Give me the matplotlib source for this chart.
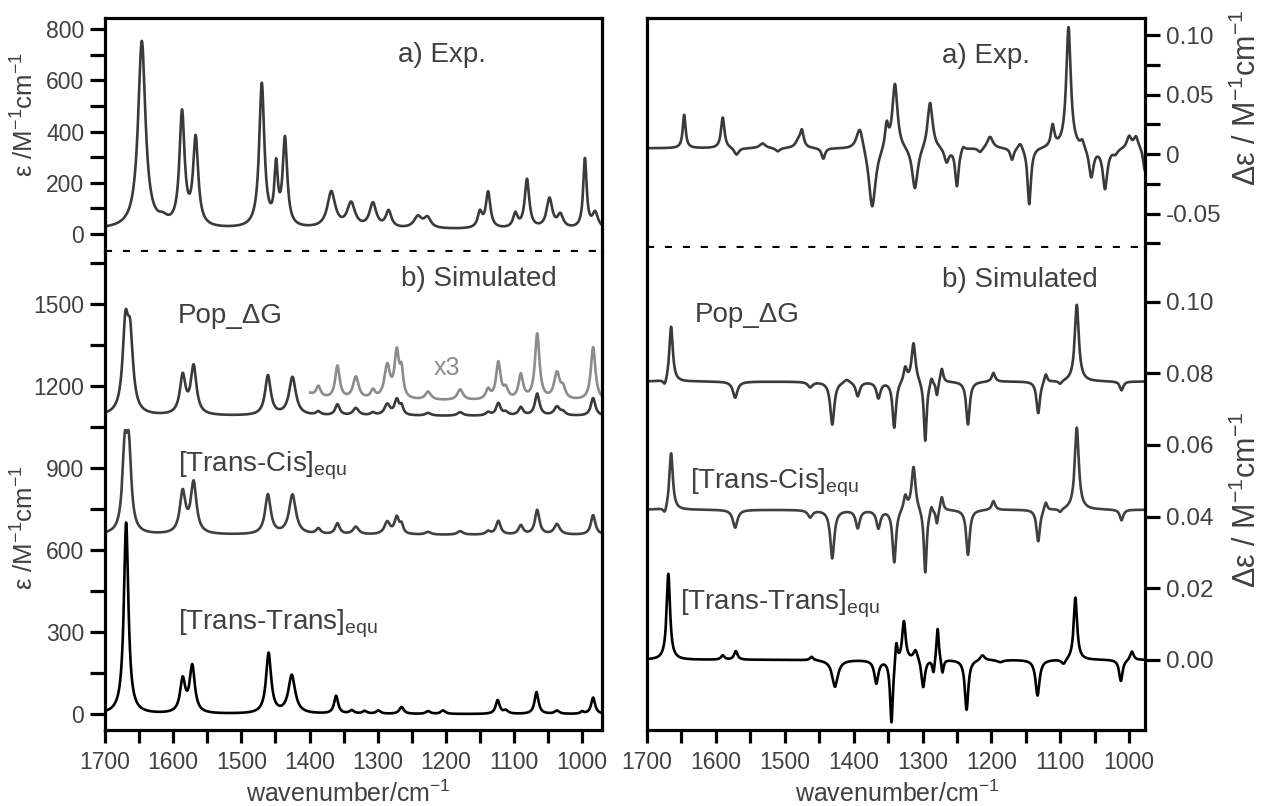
import numpy as np
import matplotlib
matplotlib.use("Agg")
import matplotlib.pyplot as plt
from matplotlib.ticker import MultipleLocator, FuncFormatter

plt.rcParams['font.family'] = ['Liberation Sans', 'DejaVu Sans']
plt.rcParams['mathtext.fontset'] = 'custom'
plt.rcParams['mathtext.rm'] = 'Liberation Sans'
plt.rcParams['mathtext.it'] = 'Liberation Sans:italic'
plt.rcParams['mathtext.bf'] = 'Liberation Sans:bold'

# ---------------- band tables (position cm-1, amplitude, FWHM cm-1) ----------------
# experimental IR absorption
exp_ir_pos = [1646, 1615, 1587, 1567, 1470, 1449, 1436, 1368, 1339, 1307, 1284, 1241, 1227,
              1150, 1138, 1098, 1081, 1048, 1032, 996, 981]
exp_ir_amp = [730, 22, 440, 340, 560, 220, 340, 140, 95, 95, 65, 45, 40,
              60, 140, 55, 190, 115, 50, 270, 60]
exp_ir_fwhm = [13, 16, 9, 9, 9, 6, 8, 14, 14, 12, 10, 14, 12,
               8, 8, 8, 8, 10, 10, 6, 10]
exp_ir_base = 18

# simulated IR, population weighted
pop_ir_pos = [1670, 1663, 1586, 1570, 1461, 1425, 1387, 1359, 1332, 1307, 1286, 1272, 1265,
              1226, 1179, 1138, 1123, 1112, 1090, 1066, 1037, 1028, 984]
pop_ir_amp = [300, 250, 140, 175, 145, 140, 13, 40, 27, 10, 40, 55, 30,
              10, 13, 12, 45, 12, 30, 80, 32, 12, 65]
pop_ir_fwhm = [10, 10, 10, 10, 10, 12, 8, 8, 10, 8, 10, 8, 6,
               10, 10, 8, 8, 8, 8, 8, 10, 8, 8]
pop_ir_base = 1090
pop_x3_base = 1145
pop_x3_start = 1399

# simulated IR, trans-cis conformer
tc_ir_pos = [1671, 1665, 1586, 1570, 1461, 1425, 1387, 1359, 1332, 1286, 1272, 1265,
             1226, 1179, 1138, 1123, 1090, 1066, 1037, 984]
tc_ir_amp = [280, 280, 150, 185, 145, 145, 20, 40, 28, 45, 60, 30,
             10, 13, 12, 50, 33, 90, 38, 72]
tc_ir_fwhm = [8.5, 8.5, 10, 10, 10, 12, 8, 8, 10, 10, 8, 6,
              10, 10, 8, 8, 8, 8, 10, 8]
tc_ir_base = 655

# simulated IR, trans-trans conformer
tt_ir_pos = [1669, 1586, 1572, 1460, 1426, 1361, 1338, 1319, 1299, 1265, 1226, 1204,
             1124, 1112, 1067, 1037, 1000, 984]
tt_ir_amp = [700, 120, 170, 220, 140, 65, 12, 10, 12, 25, 10, 13,
             50, 12, 80, 12, 8, 60]
tt_ir_fwhm = [8, 9, 9, 9, 12, 7, 8, 8, 8, 8, 8, 8,
              7, 8, 7, 8, 6, 7]
tt_ir_base = 0

# experimental VCD
exp_cd_pos = [1646, 1590, 1570, 1532, 1510, 1480, 1475, 1444, 1391, 1373, 1352, 1340, 1311,
              1289, 1265, 1250, 1241, 1216, 1202, 1170, 1158, 1145, 1111, 1088, 1068,
              1055, 1035, 1020, 1000, 990, 977]
exp_cd_amp = [0.028, 0.026, -0.006, 0.004, -0.003, 0.006, 0.013, -0.009, 0.02, -0.052, 0.02,
              0.055, -0.036, 0.04, -0.012, -0.032, 0.004, -0.004, 0.010, -0.010, 0.006,
              -0.048, 0.018, 0.102, 0.006, -0.025, -0.034, -0.004, 0.010, 0.010, -0.02]
exp_cd_fwhm = [5, 6, 8, 10, 8, 10, 6, 6, 12, 12, 6, 9, 10,
               9, 8, 6, 6, 8, 10, 6, 8, 6, 6, 8, 6,
               8, 8, 8, 8, 8, 6]
exp_cd_base = 0.005

# simulated VCD, population weighted
pop_cd_pos = [1674, 1665, 1572, 1463, 1431, 1410, 1394, 1364, 1341, 1325, 1313, 1296, 1287,
              1279, 1272, 1234, 1197, 1132, 1121, 1100, 1076, 1011]
pop_cd_amp = [-0.002, 0.0155, -0.0045, -0.0015, -0.012, 0.001, -0.004, -0.0045, -0.013,
              0.004, 0.011, -0.017, 0.002, -0.004, 0.004, -0.012, 0.0025, -0.009, 0.0025,
              -0.001, 0.0215, -0.0025]
pop_cd_fwhm = [6, 6, 8, 8, 7, 10, 7, 7, 6, 6, 7, 5, 4,
               4, 5, 6, 6, 6, 5, 6, 7, 6]
pop_cd_base = 0.0777

# simulated VCD, trans-cis conformer
tc_cd_pos = [1674, 1665, 1572, 1463, 1431, 1394, 1364, 1341, 1325, 1313, 1296, 1287,
             1279, 1272, 1234, 1197, 1132, 1121, 1100, 1076, 1011]
tc_cd_amp = [-0.002, 0.016, -0.005, -0.002, -0.0135, -0.005, -0.005, -0.0148, 0.004,
             0.0123, -0.018, 0.002, -0.004, 0.004, -0.0126, 0.0025, -0.009, 0.0025,
             -0.001, 0.023, -0.003]
tc_cd_fwhm = [6, 6, 8, 8, 7, 7, 7, 6, 6, 7, 5, 4,
              4, 5, 6, 6, 6, 5, 6, 7, 6]
tc_cd_base = 0.0419

# simulated VCD, trans-trans conformer
tt_cd_pos = [1669, 1590, 1571, 1461, 1427, 1367, 1345, 1338, 1327, 1310, 1299, 1284, 1278,
             1271, 1236, 1213, 1187, 1133, 1095, 1078, 1012, 996]
tt_cd_amp = [0.024, 0.0012, 0.0024, 0.001, -0.0075, -0.0065, -0.018, 0.006, 0.011, 0.003,
             -0.008, -0.004, 0.0095, -0.004, -0.014, 0.0015, -0.0006, -0.010, -0.0015,
             0.0175, -0.006, 0.0025]
tt_cd_fwhm = [6, 6, 6, 6, 10, 7, 5, 4, 6, 8, 6, 4, 4,
              4, 6, 8, 10, 7, 8, 6, 6, 6]
tt_cd_base = 0.0

left_top_ticks = [0, 200, 400, 600, 800]
left_bot_ticks = [0, 300, 600, 900, 1200, 1500]
right_top_ticks = [-0.05, 0, 0.05, 0.10]
right_top_labels = ['-0.05', '0', '0.05', '0.10']
right_bot_ticks = [0.00, 0.02, 0.04, 0.06, 0.08, 0.10]
x_ticks = [1700, 1600, 1500, 1400, 1300, 1200, 1100, 1000]

# ---------------- helpers ----------------
wn = np.linspace(960, 1710, 4000)


def bands(x, pos, amp, fwhm):
    hw = np.asarray(fwhm, float)[None, :] / 2.0
    d = x[:, None] - np.asarray(pos, float)[None, :]
    return (np.asarray(amp, float)[None, :] * hw ** 2 / (d ** 2 + hw ** 2)).sum(axis=1)


TXT = '#404040'
W, H = 1262, 806
fig = plt.figure(figsize=(W / 100, H / 100), dpi=100)


def px_axes(x0, y0, x1, y1):
    return fig.add_axes([x0 / W, 1 - y1 / H, (x1 - x0) / W, (y1 - y0) / H])


def frame(ax, top_part, side, ysize):
    for s in ax.spines.values():
        s.set_linewidth(2.3)
        s.set_color('black')
    if top_part:
        ax.spines['bottom'].set_visible(False)
        ax.axhline(ax.get_ylim()[0], color='black', lw=3.0, dashes=(1.7, 2.6),
                   clip_on=False, zorder=5)
        ax.tick_params(axis='x', bottom=False, labelbottom=False, which='both')
    else:
        ax.spines['top'].set_visible(False)
        ax.xaxis.set_major_locator(MultipleLocator(100))
        ax.xaxis.set_minor_locator(MultipleLocator(50))
        ax.tick_params(axis='x', which='both', direction='out', length=9, width=2.3,
                       labelsize=16.5, labelcolor=TXT, pad=6)
    if side == 'right':
        ax.yaxis.tick_right()
    ax.tick_params(axis='y', which='both', direction='out', length=11, width=2.3,
                   labelsize=ysize, labelcolor=TXT, pad=4)


axL1 = px_axes(105, 18, 602, 252)
axL2 = px_axes(105, 252, 602, 730)
axR1 = px_axes(647, 18, 1145, 248)
axR2 = px_axes(647, 248, 1145, 730)

# ---------------- left panel: IR ----------------
axL1.plot(wn, exp_ir_base + bands(wn, exp_ir_pos, exp_ir_amp, exp_ir_fwhm), color='#3a3a3a', lw=1.9)
axL1.set_xlim(1700, 971)
axL1.set_ylim(-70, 843)
axL1.set_yticks(left_top_ticks)
axL1.yaxis.set_minor_locator(MultipleLocator(100))
frame(axL1, True, 'left', 16.5)

pop_ir = bands(wn, pop_ir_pos, pop_ir_amp, pop_ir_fwhm)
mask = wn <= pop_x3_start
axL2.plot(wn[mask], pop_x3_base + 3 * pop_ir[mask], color='#8c8c8c', lw=1.9)
axL2.plot(wn, pop_ir_base + pop_ir, color='#3a3a3a', lw=1.9)
axL2.plot(wn, tc_ir_base + bands(wn, tc_ir_pos, tc_ir_amp, tc_ir_fwhm), color='#404040', lw=1.9)
axL2.plot(wn, tt_ir_base + bands(wn, tt_ir_pos, tt_ir_amp, tt_ir_fwhm), color='black', lw=1.9)
axL2.set_xlim(1700, 971)
axL2.set_ylim(-58, 1690)
axL2.set_yticks(left_bot_ticks)
axL2.yaxis.set_minor_locator(MultipleLocator(150))
axL2.set_xticks(x_ticks)
frame(axL2, False, 'left', 16.5)

# ---------------- right panel: VCD ----------------
axR1.plot(wn, exp_cd_base + bands(wn, exp_cd_pos, exp_cd_amp, exp_cd_fwhm), color='#3a3a3a', lw=1.9)
axR1.set_xlim(1700, 977)
axR1.set_ylim(-0.0788, 0.1144)
axR1.set_yticks(right_top_ticks)
axR1.set_yticklabels(right_top_labels)
axR1.yaxis.set_minor_locator(MultipleLocator(0.025))
frame(axR1, True, 'right', 17.5)

axR2.plot(wn, pop_cd_base + bands(wn, pop_cd_pos, pop_cd_amp, pop_cd_fwhm), color='#3a3a3a', lw=1.9)
axR2.plot(wn, tc_cd_base + bands(wn, tc_cd_pos, tc_cd_amp, tc_cd_fwhm), color='#404040', lw=1.9)
axR2.plot(wn, tt_cd_base + bands(wn, tt_cd_pos, tt_cd_amp, tt_cd_fwhm), color='black', lw=1.9)
axR2.set_xlim(1700, 977)
axR2.set_ylim(-0.0196, 0.115)
axR2.set_yticks(right_bot_ticks)
axR2.yaxis.set_major_formatter(FuncFormatter(lambda v, p: f'{v:.2f}'))
axR2.set_xticks(x_ticks)
frame(axR2, False, 'right', 17.5)

# ---------------- text ----------------
def ftext(x, y, s, **kw):
    kw.setdefault('color', TXT)
    kw.setdefault('fontsize', 20)
    kw.setdefault('va', 'baseline')
    fig.text(x / W, 1 - y / H, s, **kw)


ftext(398, 62, 'a) Exp.')
ftext(942, 63, 'a) Exp.')
ftext(401, 286, 'b) Simulated')
ftext(942, 287, 'b) Simulated')
ftext(178, 323, 'Pop_ΔG')
ftext(178, 472, r'[Trans-Cis]$_{\mathrm{equ}}$')
ftext(178, 629, r'[Trans-Trans]$_{\mathrm{equ}}$')
ftext(434, 375, 'x3', color='#8c8c8c', fontsize=18)
ftext(695, 322, 'Pop_ΔG')
ftext(690, 488, r'[Trans-Cis]$_{\mathrm{equ}}$')
ftext(680, 610, r'[Trans-Trans]$_{\mathrm{equ}}$')

ylab_ir = r'ε /M$^{\mathrm{-1}}$cm$^{\mathrm{-1}}$'
ylab_cd = r'Δε / M$^{\mathrm{-1}}$cm$^{\mathrm{-1}}$'
xlab = r'wavenumber/cm$^{\mathrm{-1}}$'
lab_kw = dict(color=TXT, rotation=90, ha='center', va='center', rotation_mode='anchor')
fig.text(25 / W, 1 - 115 / H, ylab_ir, fontsize=18.5, **lab_kw)
fig.text(25 / W, 1 - 528 / H, ylab_ir, fontsize=18.5, **lab_kw)
fig.text(1247 / W, 1 - 98 / H, ylab_cd, fontsize=22, **lab_kw)
fig.text(1247 / W, 1 - 500 / H, ylab_cd, fontsize=22, **lab_kw)
fig.text(348 / W, 1 - 794 / H, xlab, color=TXT, fontsize=18, ha='center', va='center')
fig.text(897 / W, 1 - 794 / H, xlab, color=TXT, fontsize=18, ha='center', va='center')

fig.savefig('out.png', dpi=100)
